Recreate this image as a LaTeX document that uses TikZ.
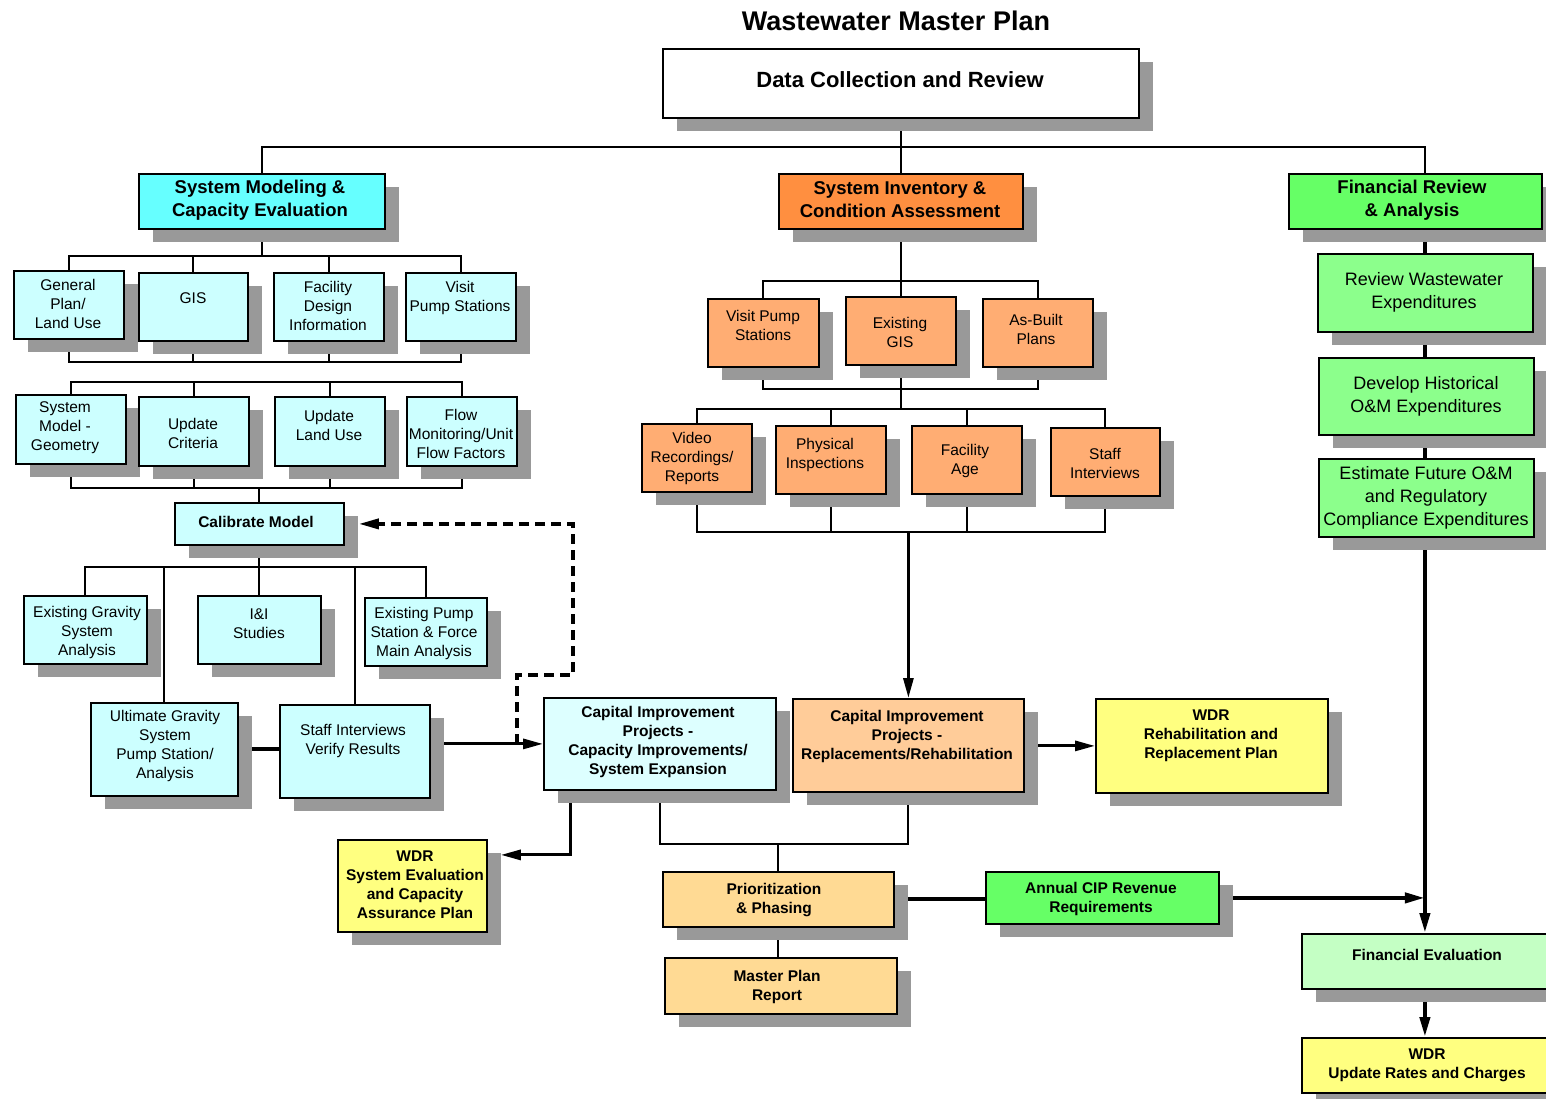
\documentclass[tikz,border=0pt]{standalone}
\usepackage{fontspec}
\setmainfont{Liberation Sans}
\usetikzlibrary{arrows.meta,shadows}

\pgfdeclarelayer{bg}
\pgfsetlayers{bg,main}

\begin{document}
\begin{tikzpicture}[x=1pt,y=1pt,yscale=-1,xscale=1,
  box/.style={draw, line width=1.8pt, anchor=north west, inner sep=0pt,
    drop shadow={shadow xshift=14pt, shadow yshift=-13pt, opacity=1, fill={rgb,255:red,153; green,153; blue,153}}},
  wh/.style 2 args={minimum width=#1, minimum height=#2},
  hdcyan/.style={fill={rgb,255:red,102; green,255; blue,255}},
  ltcyan/.style={fill={rgb,255:red,204; green,255; blue,255}},
  cipcyan/.style={fill={rgb,255:red,221; green,255; blue,255}},
  hdorange/.style={fill={rgb,255:red,255; green,143; blue,64}},
  ltorange/.style={fill={rgb,255:red,255; green,173; blue,115}},
  ciporange/.style={fill={rgb,255:red,255; green,204; blue,153}},
  tanbox/.style={fill={rgb,255:red,255; green,218; blue,148}},
  hdgreen/.style={fill={rgb,255:red,102; green,255; blue,102}},
  midgreen/.style={fill={rgb,255:red,140; green,255; blue,140}},
  ltgreen/.style={fill={rgb,255:red,196; green,255; blue,196}},
  yel/.style={fill={rgb,255:red,255; green,255; blue,128}},
  txt/.style={align=center, inner sep=0pt, font=\fontsize{15.5}{19}\selectfont},
  txtb/.style={align=center, inner sep=0pt, font=\bfseries\fontsize{15.5}{19}\selectfont},
  txth/.style={align=center, inner sep=0pt, font=\bfseries\fontsize{18.5}{23}\selectfont},
  txtf/.style={align=center, inner sep=0pt, font=\fontsize{18}{22.7}\selectfont},
  conn/.style={line width=2pt},
  medln/.style={line width=3pt},
  thk/.style={line width=4pt},
  dsh/.style={line width=3.5pt, dash pattern=on 10pt off 6pt},
  arr/.style={-{Triangle[length=20pt,width=10pt]}}
]
\useasboundingbox (0,0) rectangle (1546,1099);

%Shape: top
\node[box, fill=white, wh={476}{69}] (dc) at (662,48) {};
\node[box, hdcyan, wh={246}{55}] (sm) at (138,173) {};
\node[box, hdorange, wh={244}{55}] (si) at (778,173) {};
\node[box, hdgreen, wh={253}{55}] (fr) at (1288,173) {};

%Shape: system modeling
\node[box, ltcyan, wh={110}{68}] (gp) at (13,270) {};
\node[box, ltcyan, wh={109}{68}] (gis) at (138,272) {};
\node[box, ltcyan, wh={110}{68}] (fdi) at (273,272) {};
\node[box, ltcyan, wh={110}{68}] (vps) at (405,272) {};
\node[box, ltcyan, wh={110}{69}] (smg) at (15,394) {};
\node[box, ltcyan, wh={110}{69}] (uc) at (138,396) {};
\node[box, ltcyan, wh={110}{69}] (ulu) at (274,396) {};
\node[box, ltcyan, wh={110}{69}] (fm) at (406,396) {};
\node[box, ltcyan, wh={169}{42}] (cal) at (174,502) {};
\node[box, ltcyan, wh={123}{68}] (egs) at (23,595) {};
\node[box, ltcyan, wh={123}{68}] (ii) at (197,595) {};
\node[box, ltcyan, wh={122}{68}] (eps) at (364,597) {};
\node[box, ltcyan, wh={147}{93}] (ugs) at (90,702) {};
\node[box, ltcyan, wh={150}{93}] (siv) at (279,704) {};

%Shape: system inventory
\node[box, ltorange, wh={111}{68}] (ivps) at (707,298) {};
\node[box, ltorange, wh={110}{68}] (egis) at (845,296) {};
\node[box, ltorange, wh={110}{68}] (abp) at (982,298) {};
\node[box, ltorange, wh={110}{68}] (vrr) at (641,423) {};
\node[box, ltorange, wh={110}{68}] (phi) at (775,425) {};
\node[box, ltorange, wh={110}{68}] (fa) at (911,425) {};
\node[box, ltorange, wh={109}{68}] (sti) at (1050,427) {};

%Shape: financial
\node[box, midgreen, wh={215}{78}] (rwe) at (1317,253) {};
\node[box, midgreen, wh={215}{77}] (dhe) at (1318,357) {};
\node[box, midgreen, wh={215}{78}] (efe) at (1318,458) {};

%Shape: projects and plans
\node[box, cipcyan, wh={232}{92}] (cipc) at (543,697) {};
\node[box, ciporange, wh={231}{93}] (cipo) at (792,698) {};
\node[box, yel, wh={232}{94}] (wdr1) at (1095,698) {};
\node[box, yel, wh={149}{92}] (wdr2) at (337,839) {};
\node[box, tanbox, wh={231}{55}] (pp) at (662,871) {};
\node[box, tanbox, wh={232}{56}] (mpr) at (664,957) {};
\node[box, hdgreen, wh={233}{52}] (ac) at (985,871) {};
\node[box, ltgreen, wh={246}{55}] (fe) at (1301,933) {};
\node[box, yel, wh={246}{55}] (wdr3) at (1301,1037) {};

% Text Node
\node[align=center, inner sep=0pt, font=\bfseries\fontsize{27}{30}\selectfont] (ttl) at (896,21) {Wastewater Master Plan};
\node[txth, font=\bfseries\fontsize{22}{26}\selectfont] (dct) at (900,80) {Data Collection and Review};
\node[txth] (smt) at (260,200) {System Modeling \&\\Capacity Evaluation};
\node[txth] (sit) at (900,200) {System Inventory \&\\Condition Assessment};
\node[txth] (frt) at (1412,200) {Financial Review\\\& Analysis};
% Text Node
\node[txt] (gpt) at (68,304) {General\\Plan/\\Land Use};
\node[txt] (gist) at (193,298) {GIS};
\node[txt] (fdit) at (328,306) {Facility\\Design\\Information};
\node[txt] (vpst) at (460,298) {Visit\\Pump Stations};
\node[txt] (smgt) at (65,428) {System\\Model -\\Geometry};
\node[txt] (uct) at (193,433) {Update\\Criteria};
\node[txt] (ulut) at (329,425) {Update\\Land Use};
\node[txt] (fmt) at (461,434) {Flow\\Monitoring/Unit\\Flow Factors};
\node[txtb] (calt) at (256,522) {Calibrate Model};
\node[txt] (egst) at (87,632) {Existing Gravity\\System\\Analysis};
\node[txt] (iit) at (259,624) {I\&I\\Studies};
\node[txt] (epst) at (424,633) {Existing Pump\\Station \& Force\\Main Analysis};
\node[txt] (ugst) at (165,746) {Ultimate Gravity\\System\\Pump Station/\\Analysis};
\node[txt] (sivt) at (353,741) {Staff Interviews\\Verify Results};
% Text Node
\node[txt] (ivpst) at (763,325) {Visit Pump\\Stations};
\node[txt] (egist) at (900,332) {Existing\\GIS};
\node[txt] (abpt) at (1036,329) {As-Built\\Plans};
\node[txt] (vrrt) at (692,458) {Video\\Recordings/\\Reports};
\node[txt] (phit) at (825,455) {Physical\\Inspections};
\node[txt] (fat) at (965,461) {Facility\\Age};
\node[txt] (stit) at (1105,463) {Staff\\Interviews};
% Text Node
\node[txtf] (rwet) at (1424,292) {Review Wastewater\\Expenditures};
\node[txtf] (dhet) at (1426,396) {Develop Historical\\O\&M Expenditures};
\node[txtf] (efet) at (1426,498) {Estimate Future O\&M\\and Regulatory\\Compliance Expenditures};
% Text Node
\node[txtb] (cipct) at (658,742) {Capital Improvement\\Projects -\\Capacity Improvements/\\System Expansion};
\node[txtb] (cipot) at (907,736) {Capital Improvement\\Projects -\\Replacements/Rehabilitation};
\node[txtb] (wdr1t) at (1211,736) {WDR\\Rehabilitation and\\Replacement Plan};
\node[txtb] (wdr2t) at (415,885) {WDR\\System Evaluation\\and Capacity\\Assurance Plan};
\node[txtb] (ppt) at (774,900) {Prioritization\\\& Phasing};
\node[txtb] (mprt) at (777,987) {Master Plan\\Report};
\node[txtb] (act) at (1101,899) {Annual CIP Revenue\\Requirements};
\node[txtb] (fet) at (1427,955) {Financial Evaluation};
\node[txtb] (wdr3t) at (1427,1065) {WDR\\Update Rates and Charges};

\begin{pgfonlayer}{bg}
\coordinate (b0) at (0,147);
\coordinate (b1) at (0,256);
\coordinate (b2) at (0,362);
\coordinate (b3) at (0,382);
\coordinate (b4) at (0,488);
\coordinate (b5) at (0,567);
\coordinate (b6) at (0,844);
\coordinate (b7) at (0,281);
\coordinate (b8) at (0,389);
\coordinate (b9) at (0,409);
\coordinate (b10) at (0,532);

% top level
\draw[conn] (dc.south) -- (si.north);
\draw[conn] (sm.north) |- (rwe.north |- b0) -- (rwe.north |- fr.north);
\draw[thk,arr] (fe.north |- fr.south) -- (fe.north);

% system modeling tree
\draw[conn] (sm.south) -- (sm.south |- b1);
\draw[conn] (gp.north) |- (vps.north |- b1) -- (vps.north);
\draw[conn] (gis.north) -- (gis.north |- b1);
\draw[conn] (fdi.north) -- (fdi.north |- b1);
\draw[conn] (gp.south) |- (vps.south |- b2) -- (vps.south);
\draw[conn] (gis.south) -- (gis.south |- b2);
\draw[conn] (fdi.south) -- (fdi.south |- b2);
\draw[conn] (smg.north) |- (fm.north |- b3) -- (fm.north);
\draw[conn] (uc.north) -- (uc.north |- b3);
\draw[conn] (ulu.north) -- (ulu.north |- b3);
\draw[conn] (smg.south) |- (fm.south |- b4) -- (fm.south);
\draw[conn] (uc.south) -- (uc.south |- b4);
\draw[conn] (ulu.south) -- (ulu.south |- b4);
\draw[conn] (cal.north) -- (cal.north |- b4);
\draw[conn] (egs.north) |- (eps.north |- b5) -- (eps.north);
\draw[conn] (cal.south) -- (ii.north);
\draw[conn] (ugs.north) -- (ugs.north |- b5);
\draw[conn] (siv.north) -- (siv.north |- b5);
\draw[thk] (ugs.east) -- (ugs.east -| siv.west);
\draw[medln,arr] (siv.east |- cipc.west) -- (cipc.west);
\draw[dsh,arr] (cipc.west) ++(-26,0) -- ++(0,-69) -- ++(56,0) |- ([xshift=14pt]cal.east);

% system inventory tree
\draw[conn] (si.south) -- (egis.north);
\draw[conn] (ivps.north) |- (abp.north |- b7) -- (abp.north);
\draw[conn] (ivps.south) |- (abp.south |- b8) -- (abp.south);
\draw[conn] (egis.south) -- (egis.south |- b9);
\draw[conn] (vrr.north) |- (sti.north |- b9) -- (sti.north);
\draw[conn] (phi.north) -- (phi.north |- b9);
\draw[conn] (fa.north) -- (fa.north |- b9);
\draw[conn] (vrr.south) |- (sti.south |- b10) -- (sti.south);
\draw[conn] (phi.south) -- (phi.south |- b10);
\draw[conn] (fa.south) -- (fa.south |- b10);
\draw[medln,arr] (cipo.north |- b10) -- (cipo.north);

% projects and plans
\draw[medln,arr] ([xshift=27pt]cipc.south west) |- ([xshift=13pt,yshift=-31pt]wdr2.east);
\draw[medln,arr] (cipo.east |- wdr1.west) -- (wdr1.west);
\draw[conn] (cipc.south) |- (cipo.south |- b6) -- (cipo.south);
\draw[conn] (pp.north) -- (pp.north |- b6);
\draw[conn] (pp.south) -- (pp.south |- mpr.north);
\draw[thk] (pp.east) -- (pp.east -| ac.west);
\draw[thk,arr] (ac.east) -- (ac.east -| fe.north);
\draw[thk,arr] (fe.south) -- (wdr3.north);
\end{pgfonlayer}

\end{tikzpicture}
\end{document}
